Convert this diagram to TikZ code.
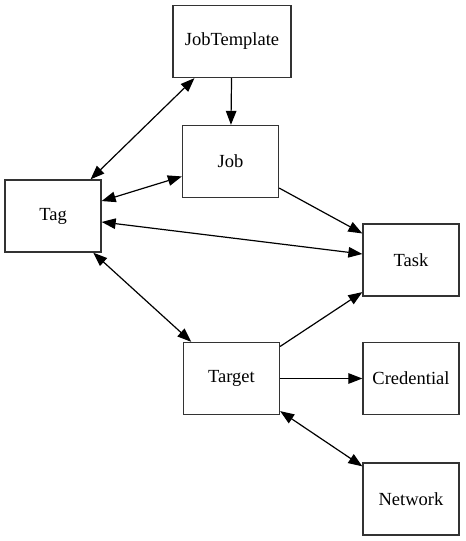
\documentclass[tikz,border=0pt]{standalone}
\usepackage{fontspec}
\setmainfont{Liberation Serif}
\usetikzlibrary{arrows.meta,positioning}

\begin{document}
\begin{tikzpicture}[
  x=1pt,y=1pt,
  box/.style={draw=black!80,line width=1.3pt,minimum width=96pt,minimum height=72pt,
    inner sep=8pt,align=center,font=\rmfamily\fontsize{18.5}{21}\selectfont},
  arr/.style={-{Triangle[length=14pt,width=10.5pt]},line width=1.2pt},
  biarr/.style={{Triangle[length=14pt,width=10.5pt]}-{Triangle[length=14pt,width=10.5pt]},line width=1.2pt}]
\useasboundingbox (0,0) rectangle (466,-541);
\node[box,minimum width=118pt] (jobtpl) at (232,-41.5) {JobTemplate};
\node[box] (job) at (230.5,-161.5) {Job};
\node[box] (tag) at (53,-216) {Tag};
\node[box] (task) at (411,-260) {Task};
\node[box] (target) at (231.5,-378.5) {Target};
\node[box] (cred) at (411,-378.5) {Credential};
\node[box] (net) at (411,-499) {Network};
\draw[arr] (jobtpl)--(job);
\draw[biarr] (tag)--(jobtpl);
\draw[biarr] (tag)--(job);
\draw[biarr] (tag)--(task);
\draw[biarr] (tag)--(target);
\draw[arr] (job)--(task);
\draw[arr] (target)--(task);
\draw[arr] (target)--(cred);
\draw[biarr] (target)--(net);
\end{tikzpicture}
\end{document}
